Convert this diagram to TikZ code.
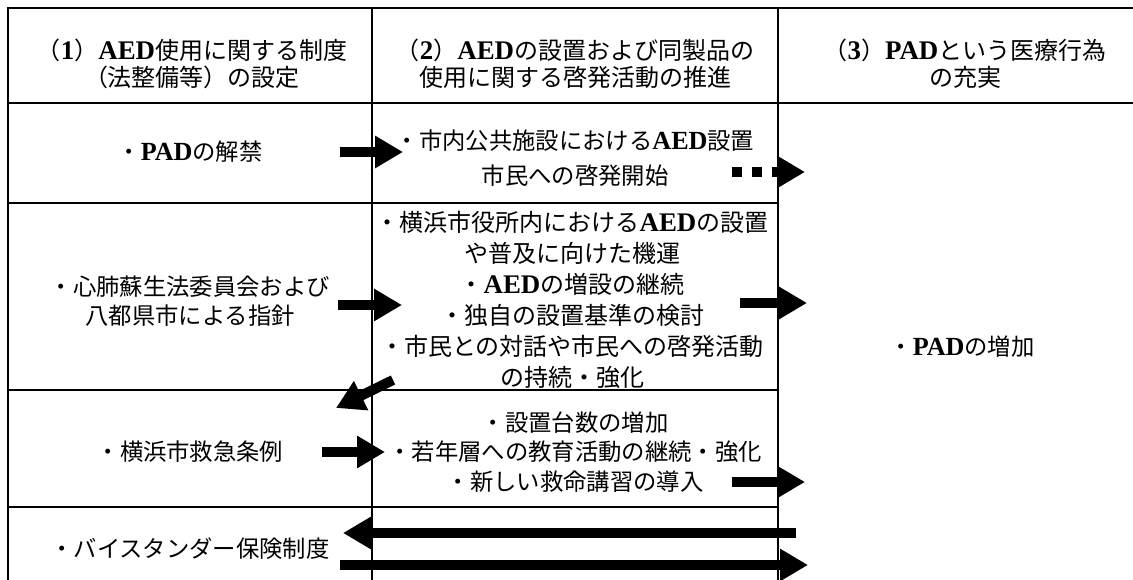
\documentclass[tikz,border=0pt]{standalone}
\usepackage{fontspec}
\setmainfont{Noto Sans CJK JP}
\newfontfamily\latf{Liberation Serif}[Scale=1.12]
\newcommand\lat[1]{{\latf\bfseries #1}}
\usetikzlibrary{arrows.meta}
\begin{document}
\begin{tikzpicture}[x=0.75pt,y=-0.75pt,
  frame/.style={line width=1.5pt},
  hdrline/.style={line width=2.2pt},
  txt/.style={align=center, inner sep=0pt, font=\fontsize{17.5}{21}\selectfont},
  blockarrow/.style={line width=7.5pt, -{Triangle[length=21pt,width=23pt]}},
  dotarrow/.style={blockarrow, dash pattern=on 7.5pt off 7.5pt},
]
\useasboundingbox (0,0) rectangle (1133,580);
% frame lines
\draw[frame] (1133,8) -- (8,8) -- (8,580);
\draw[frame] (372,8) -- (372,580);
\draw[frame] (778,8) -- (778,580);
\draw[hdrline] (8,103) -- (1133,103);
\draw[frame] (8,203) -- (778,203);
\draw[frame] (8,390) -- (778,390);
\draw[frame] (8,507) -- (778,507);
% headers
\node[txt, font=\fontsize{18}{20.25}\selectfont] (h1) at (192,63.5) {（\lat{1}）\lat{AED}使用に関する制度\\（法整備等）の設定};
\node[txt, font=\fontsize{18}{20.25}\selectfont] (h2) at (575,63.5) {（\lat{2}）\lat{AED}の設置および同製品の\\使用に関する啓発活動の推進};
\node[txt, font=\fontsize{18}{20.25}\selectfont] (h3) at (965,63.5) {（\lat{3}）\lat{PAD}という医療行為\\の充実};
% row 1
\node[txt] (r1c1) at (190,152) {・\lat{PAD}の解禁};
\node[txt, font=\fontsize{17.5}{26.25}\selectfont] (r1c2) at (575,158) {・市内公共施設における\lat{AED}設置\\市民への啓発開始};
% row 2
\node[txt, font=\fontsize{17.5}{21.75}\selectfont] (r2c1) at (190,301) {・心肺蘇生法委員会および\\八都県市による指針};
\node[txt, font=\fontsize{18}{23.25}\selectfont] (r2c2) at (572,299.5) {・横浜市役所内における\lat{AED}の設置\\や普及に向けた機運\\・\lat{AED}の増設の継続\\・独自の設置基準の検討\\・市民との対話や市民への啓発活動\\の持続・強化};
\node[txt] (c3) at (962,347) {・\lat{PAD}の増加};
% row 3
\node[txt] (r3c1) at (190,452) {・横浜市救急条例};
\node[txt, font=\fontsize{17.5}{22}\selectfont] (r3c2) at (575,452) {・設置台数の増加\\・若年層への教育活動の継続・強化\\・新しい救命講習の導入};
% row 4
\node[txt] (r4c1) at (190,549) {・バイスタンダー保険制度};
% arrow coordinates
\coordinate (a1s) at (340,152); \coordinate (a1e) at (403,152);
\coordinate (d1s) at (732,172); \coordinate (d1e) at (805,172);
\coordinate (a2s) at (338,305); \coordinate (a2e) at (402,305);
\coordinate (a3s) at (740,303); \coordinate (a3e) at (807,303);
\coordinate (a4s) at (393,380); \coordinate (a4e) at (336,408);
\coordinate (a5s) at (322,452); \coordinate (a5e) at (385,452);
\coordinate (a6s) at (732,482); \coordinate (a6e) at (805,482);
\coordinate (a7s) at (796,533); \coordinate (a7e) at (343,533);
\coordinate (a8s) at (340,565); \coordinate (a8e) at (808,565);
% arrows
\draw[blockarrow] (a1s) -- (a1e);
\draw[dotarrow] (d1s) -- (d1e);
\draw[blockarrow] (a2s) -- (a2e);
\draw[blockarrow] (a3s) -- (a3e);
\draw[blockarrow] (a4s) -- (a4e);
\draw[blockarrow] (a5s) -- (a5e);
\draw[blockarrow] (a6s) -- (a6e);
\draw[blockarrow] (a7s) -- (a7e);
\draw[blockarrow] (a8s) -- (a8e);
\end{tikzpicture}
\end{document}
